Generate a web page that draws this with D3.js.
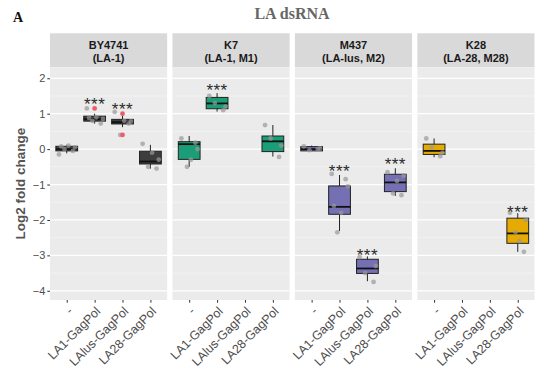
<!DOCTYPE html>
<html lang="en">
<head>
<meta charset="UTF-8">
<title>LA dsRNA</title>
<script src="https://d3js.org/d3.v7.min.js"></script>
<style>
  body { margin: 0; background: #fff; }
  svg text { font-family: "Liberation Sans", Arial, sans-serif; }
</style>
</head>
<body>
<svg id="chart" width="550" height="376"></svg>
<script>
// ---- data ----
var strains = [["BY4741", "(LA-1)"], ["K7", "(LA-1, M1)"], ["M437", "(LA-lus, M2)"], ["K28", "(LA-28, M28)"]];
var treatments = ["-", "LA1-GagPol", "LAlus-GagPol", "LA28-GagPol"];
var strainColors = ["#3d3d3d", "#1B9E77", "#7570B3", "#E6AB02"];

// box stats per strain/treatment: [lower whisker, q1, median, q3, upper whisker], null = not measured
var boxStats = [
  [[-0.12, -0.05, 0.0, 0.08, 0.12], [0.72, 0.79, 0.85, 0.93, 1.0], [0.62, 0.71, 0.76, 0.84, 0.95], [-0.55, -0.42, -0.35, -0.06, 0.12]],
  [[-0.5, -0.29, 0.14, 0.21, 0.37], [1.06, 1.14, 1.29, 1.46, 1.58], null, [-0.21, -0.07, 0.22, 0.37, 0.68]],
  [[-0.05, -0.05, 0.0, 0.07, 0.1], [-2.31, -1.84, -1.63, -1.04, -0.73], [-3.73, -3.51, -3.37, -3.11, -3.03], [-1.32, -1.2, -0.94, -0.71, -0.54]],
  [[-0.23, -0.15, -0.05, 0.14, 0.3], null, null, [-2.9, -2.66, -2.38, -1.95, -1.81]]
];

// individual replicates (grey jittered points)
var replicates = [
  [[-0.15, -0.05, 0.0, 0.05, 0.1, 0.08], [1.15, 0.72, 0.8, 0.85, 0.9, 0.88], [1.05, 0.72, 0.4, 0.78, 0.8], [0.15, -0.55, -0.5, -0.3, -0.1]],
  [[0.3, 0.18, -0.5, 0.0, -0.3], [1.5, 1.1, 1.3, 1.2], [], [0.68, -0.22, 0.3, 0.1]],
  [[0.08, 0.0, -0.03, 0.02], [-0.7, -0.85, -2.35, -1.05, -1.8, -1.6], [-3.05, -3.75, -3.5, -3.3], [-0.65, -1.3, -1.25, -0.75, -0.9]],
  [[0.3, -0.2, 0.05, -0.1], [], [], [-1.8, -2.9, -2.35, -2.0, -2.6]]
];

// outliers (red)
var outliers = [
  [[], [1.15], [1.0, 0.4], []],
  [[], [], [], []],
  [[], [], [], []],
  [[], [], [], []]
];

// significance labels and the value they sit at
var sigLabels = [
  [null, 1.38, 1.24, null],
  [null, 1.78, null, null],
  [null, -0.5, -2.87, -0.3],
  [null, null, null, -1.65]
];

var yTicks = [2, 1, 0, -1, -2, -3, -4];

// ---- layout ----
var svg = d3.select("#chart");
var plotLeft = 50, plotRight = 534.5, gap = 5.3;
var stripTop = 33.3, stripBottom = 67.3, panelBottom = 300;
var panelW = (plotRight - plotLeft - gap * 3) / 4;

var y = d3.scaleLinear().domain([-4.26, 2.31]).range([panelBottom, stripBottom]);
var x = d3.scalePoint().domain(treatments).range([0, panelW]).padding(0.6);
var jit = [-0.28, 0.22, -0.08, 0.3, 0.06, -0.2];

// title + panel letter
svg.append("text").attr("x", 13).attr("y", 22)
  .style("font-family", "'Liberation Serif', 'DejaVu Serif', serif")
  .style("font-weight", "bold").style("font-size", "14px").attr("fill", "#111").text("A");
svg.append("text").attr("x", 292).attr("y", 19).attr("text-anchor", "middle")
  .style("font-family", "'Liberation Serif', 'DejaVu Serif', serif")
  .style("font-weight", "bold").style("font-size", "16px").attr("fill", "#666").text("LA dsRNA");

// y axis title
svg.append("text")
  .attr("transform", "translate(25," + ((stripBottom + panelBottom) / 2) + ") rotate(-90)")
  .attr("text-anchor", "middle")
  .style("font-size", "13.5px").style("font-weight", "bold").attr("fill", "#555")
  .text("Log2 fold change");

// y axis
var yAxis = svg.append("g").attr("transform", "translate(" + plotLeft + ",0)")
  .call(d3.axisLeft(y).tickValues(yTicks).tickSize(2.7).tickPadding(2).tickFormat(d3.format("d")));
yAxis.select(".domain").remove();
yAxis.selectAll("line").attr("stroke", "#333");
yAxis.selectAll("text").style("font-size", "11px").attr("fill", "#4d4d4d")
  .style("font-family", "'Liberation Sans', Arial, sans-serif");

strains.forEach(function (st, si) {
  var px = plotLeft + si * (panelW + gap);
  var g = svg.append("g").attr("transform", "translate(" + px + ",0)");

  // strip
  g.append("rect").attr("x", 0).attr("y", stripTop).attr("width", panelW)
    .attr("height", stripBottom - stripTop).attr("fill", "#d9d9d9");
  g.selectAll("text.strip").data(st).enter().append("text")
    .attr("class", "strip")
    .attr("x", panelW / 2).attr("y", function (d, i) { return 49 + i * 12.5; })
    .attr("text-anchor", "middle").style("font-size", "11px").style("font-weight", "bold")
    .attr("fill", "#1a1a1a").text(function (d) { return d; });

  // panel background + grid
  g.append("rect").attr("x", 0).attr("y", stripBottom).attr("width", panelW)
    .attr("height", panelBottom - stripBottom).attr("fill", "#ebebeb");
  var minor = d3.range(-4.5, 2.5, 1).filter(function (v) { return y(v) > stripBottom && y(v) < panelBottom; });
  g.selectAll("line.minor").data(minor).enter().append("line")
    .attr("x1", 0).attr("x2", panelW).attr("y1", y).attr("y2", y)
    .attr("stroke", "#f7f7f7").attr("stroke-width", 0.6);
  g.selectAll("line.major").data(yTicks).enter().append("line")
    .attr("x1", 0).attr("x2", panelW).attr("y1", y).attr("y2", y)
    .attr("stroke", "#fff").attr("stroke-width", 1.2);

  // x axis
  var xa = g.append("g").attr("transform", "translate(0," + panelBottom + ")")
    .call(d3.axisBottom(x).tickSize(2.7).tickPadding(2));
  xa.select(".domain").remove();
  xa.selectAll("line").attr("stroke", "#333");
  xa.selectAll("text")
    .style("font-size", "12.5px").attr("fill", "#4d4d4d")
    .style("font-family", "'Liberation Sans', Arial, sans-serif")
    .attr("text-anchor", "end").attr("x", 0).attr("y", 0).attr("dy", "0.35em")
    .attr("transform", "translate(3,9) rotate(-45)");

  var bw = x.step() * 0.78;
  treatments.forEach(function (tr, ti) {
    var cx = x(tr);
    var b = boxStats[si][ti];
    if (b) {
      g.append("line").attr("x1", cx).attr("x2", cx).attr("y1", y(b[0])).attr("y2", y(b[4]))
        .attr("stroke", "#222").attr("stroke-width", 1);
      g.append("rect").attr("x", cx - bw / 2).attr("y", y(b[3])).attr("width", bw)
        .attr("height", y(b[1]) - y(b[3])).attr("fill", strainColors[si])
        .attr("stroke", "#222").attr("stroke-width", 1);
      g.append("line").attr("x1", cx - bw / 2).attr("x2", cx + bw / 2)
        .attr("y1", y(b[2])).attr("y2", y(b[2]))
        .attr("stroke", "#111").attr("stroke-width", 1.8);
    }
    g.selectAll(null).data(replicates[si][ti]).enter().append("circle")
      .attr("cx", function (d, i) { return cx + jit[i % jit.length] * x.step(); })
      .attr("cy", function (d) { return y(d); })
      .attr("r", 2.4).attr("fill", "#999").attr("fill-opacity", 0.7);
    g.selectAll(null).data(outliers[si][ti]).enter().append("circle")
      .attr("cx", cx).attr("cy", function (d) { return y(d); })
      .attr("r", 2.4).attr("fill", "#ee5c6c");
    if (sigLabels[si][ti] !== null) {
      g.append("text").attr("x", cx).attr("y", y(sigLabels[si][ti]) + 10)
        .attr("text-anchor", "middle").style("font-size", "17px").attr("fill", "#2a2a2a")
        .attr("letter-spacing", "0.5px")
        .text("***");
    }
  });
});
</script>
</body>
</html>
